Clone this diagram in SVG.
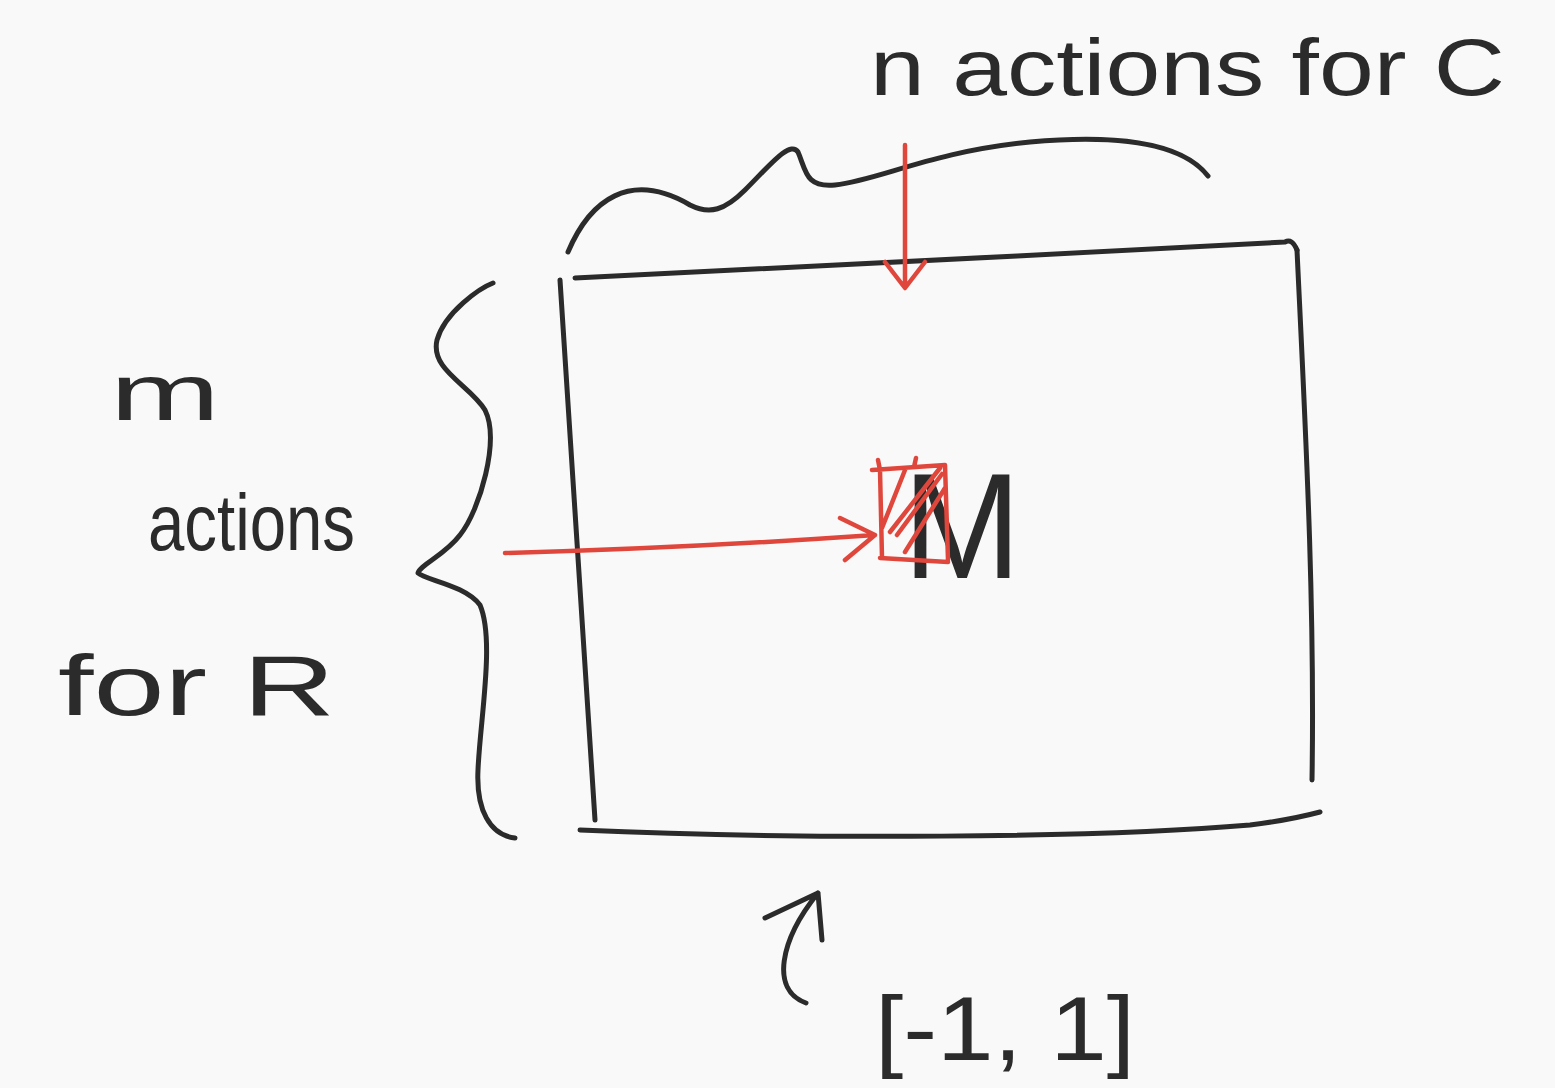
<svg xmlns="http://www.w3.org/2000/svg" width="1555" height="1088" viewBox="0 0 1555 1088">
<style>
.ink{fill:none;stroke:#2b2b2b;stroke-width:5;stroke-linecap:round;stroke-linejoin:round}
.red{fill:none;stroke:#e0473c;stroke-width:4.5;stroke-linecap:round;stroke-linejoin:round}
.t{font-family:"Liberation Sans",Arial,sans-serif;fill:#2b2b2b}
</style>
<rect width="1555" height="1088" fill="#f9f9f9"/>
<g id="label-n-actions"><text class="t" x="870" y="95" font-size="80" textLength="635" lengthAdjust="spacingAndGlyphs">n actions for C</text></g>
<g id="label-m-actions"><text class="t" x="110" y="420" font-size="80" textLength="110" lengthAdjust="spacingAndGlyphs">m</text>
<text class="t" x="148" y="550" font-size="80" textLength="207" lengthAdjust="spacingAndGlyphs">actions</text>
<text class="t" x="58" y="715" font-size="85" textLength="277" lengthAdjust="spacingAndGlyphs">for R</text></g>
<g id="label-range"><text class="t" x="875" y="1060" font-size="90" textLength="260" lengthAdjust="spacingAndGlyphs">[-1, 1]</text></g>
<g id="matrix">
<path class="ink" d="M575,278 C800,266 1050,255 1285,242 Q1292,238 1297,250"/>
<path class="ink" d="M560,280 C570,450 585,650 595,820"/>
<path class="ink" d="M1297,250 C1305,420 1315,600 1312,780"/>
<path class="ink" d="M580,830 C800,840 1100,838 1250,825 Q1290,820 1320,812"/>
</g>
<g id="brace-top"><path class="ink" d="M568,252 C590,200 630,170 690,205 C710,215 725,210 745,190 C770,165 790,140 798,152 C806,170 805,188 835,185 C880,180 930,152 1030,142 C1110,135 1180,140 1208,176"/></g>
<g id="brace-left"><path class="ink" d="M493,283 C480,288 445,312 437,340 C430,370 470,385 485,410 C500,440 480,510 460,535 C445,555 420,565 418,573 C425,580 465,585 480,605 C495,640 480,720 478,770 C476,810 490,835 515,838"/></g>
<g id="cell">
<text class="t" x="903" y="578" font-size="150" textLength="118" lengthAdjust="spacingAndGlyphs">M</text>
<path class="red" d="M880,470 L882,558 M872,470 L945,465 M880,558 L948,562 M945,465 L948,560 M882,528 L905,470 M890,532 L940,468 M897,535 L942,474 M905,552 L945,488 M878,460 L880,470 M916,458 L914,467"/>
</g>
<g id="connectors">
<path class="red" d="M905,145 L905,285 M885,262 L905,288 L925,262"/>
<path class="red" d="M505,553 C620,550 760,543 875,535 M840,518 L875,535 L845,560"/>
<path class="ink" d="M806,1003 C770,990 780,940 818,893 M765,918 L818,893 L822,940"/>
</g>
</svg>
